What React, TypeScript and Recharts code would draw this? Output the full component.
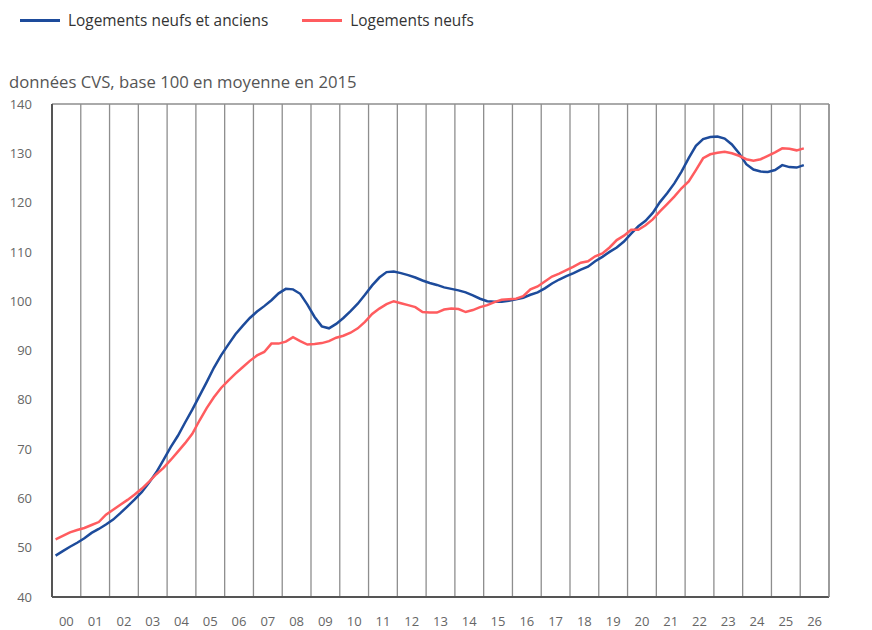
import { LineChart, Line, XAxis, YAxis, CartesianGrid, ReferenceLine } from "recharts";

// Indices trimestriels des prix des logements, 2000T1 -> 2026T1
const years = ["00", "01", "02", "03", "04", "05", "06", "07", "08", "09", "10", "11", "12", "13",
  "14", "15", "16", "17", "18", "19", "20", "21", "22", "23", "24", "25", "26"];

const yTicks = [40, 50, 60, 70, 80, 90, 100, 110, 120, 130, 140];

const ensemble = [
  48.4, 49.3, 50.2, 51.0, 51.9, 53.0, 53.8, 54.7, 55.7, 57.0, 58.4, 59.8,
  61.3, 63.2, 65.3, 67.8, 70.4, 72.7, 75.4, 78.0, 80.8, 83.6, 86.5, 89.0,
  91.2, 93.3, 95.0, 96.6, 97.9, 99.0, 100.2, 101.6, 102.5, 102.4, 101.5, 99.3,
  96.8, 94.9, 94.5, 95.4, 96.6, 98.0, 99.5, 101.3, 103.2, 104.8, 105.9, 106.0,
  105.7, 105.3, 104.8, 104.2, 103.7, 103.3, 102.8, 102.5, 102.2, 101.8, 101.2, 100.5,
  100.0, 99.9, 99.9, 100.1, 100.4, 100.7, 101.3, 101.8, 102.6, 103.6, 104.4, 105.1,
  105.7, 106.4, 107.0, 108.1, 109.0, 110.0, 110.9, 112.1, 113.7, 115.2, 116.3, 117.9,
  120.1, 121.9, 123.9, 126.3, 129.0, 131.5, 132.9, 133.3, 133.4, 133.0, 131.8, 130.0,
  127.8, 126.7, 126.3, 126.2, 126.6, 127.6, 127.2, 127.1, 127.6,
];

const neufs = [
  51.7, 52.4, 53.1, 53.6, 54.0, 54.6, 55.2, 56.7, 57.7, 58.7, 59.7, 60.8,
  62.0, 63.4, 64.9, 66.2, 67.8, 69.5, 71.2, 73.1, 75.8, 78.3, 80.5, 82.4,
  83.9, 85.3, 86.6, 87.9, 89.0, 89.7, 91.4, 91.4, 91.8, 92.7, 91.9, 91.2,
  91.3, 91.5, 91.9, 92.6, 93.0, 93.6, 94.5, 95.8, 97.4, 98.5, 99.4, 100.0,
  99.6, 99.2, 98.8, 97.8, 97.7, 97.7, 98.3, 98.5, 98.4, 97.8, 98.2, 98.8,
  99.2, 99.8, 100.3, 100.4, 100.5, 101.0, 102.4, 103.0, 104.0, 105.0, 105.6, 106.3,
  107.0, 107.8, 108.1, 109.1, 109.7, 110.9, 112.4, 113.3, 114.5, 114.5, 115.4, 116.6,
  118.2, 119.7, 121.2, 122.9, 124.3, 126.6, 129.0, 129.8, 130.1, 130.3, 130.0, 129.5,
  128.8, 128.5, 128.8, 129.5, 130.2, 131.0, 130.9, 130.6, 131.0,
];

const BLUE = "#1d4b9b";
const RED = "#ff5c5f";
const GRID = "#8e8e8e";
const FONT = "'Open Sans', sans-serif";

// position en années depuis 2000 (milieu de trimestre)
const data = ensemble.map((v, i) => ({ t: i / 4 + 0.125, ensemble: v, neufs: neufs[i] }));
const labelTicks = years.map((_, k) => k + 0.5);
const yearLines = years.map((_, k) => k + 1);

const tickStyle = { fill: "#666", fontSize: 13, fontFamily: FONT };

export default function App() {
  return (
    <div style={{ position: "absolute", left: 0, top: 0, width: 872, height: 630, fontFamily: FONT, background: "#fff" }}>
      <div style={{ position: "absolute", top: 10, left: 20, display: "flex", alignItems: "center", fontSize: 15.4, color: "#333" }}>
        <span style={{ display: "inline-block", width: 40, height: 3, background: BLUE, marginRight: 8 }} />
        <span style={{ marginRight: 34 }}>Logements neufs et anciens</span>
        <span style={{ display: "inline-block", width: 40, height: 3, background: RED, marginRight: 8 }} />
        <span>Logements neufs</span>
      </div>
      <div style={{ position: "absolute", top: 70, left: 9, fontSize: 16.7, color: "#555" }}>
        données CVS, base 100 en moyenne en 2015
      </div>
      <LineChart width={872} height={630} data={data} margin={{ top: 104, right: 0, bottom: 0, left: 0 }}>
        <CartesianGrid vertical={false} stroke={GRID} strokeWidth={1.3} />
        {yearLines.map((x) => (
          <ReferenceLine key={x} x={x} yAxisId="left" stroke={GRID} strokeWidth={1.3} />
        ))}
        <XAxis
          dataKey="t"
          type="number"
          domain={[0, 27]}
          ticks={labelTicks}
          interval={0}
          tickFormatter={(v) => years[Math.floor(v)]}
          tick={tickStyle}
          tickLine={false}
          tickSize={0}
          tickMargin={20}
          height={33}
          axisLine={{ stroke: "#555", strokeWidth: 2 }}
        />
        <YAxis
          yAxisId="left"
          domain={[40, 140]}
          ticks={yTicks}
          interval={0}
          width={52}
          tick={tickStyle}
          tickLine={false}
          tickSize={0}
          tickMargin={20}
          axisLine={{ stroke: "#555", strokeWidth: 2 }}
        />
        <YAxis
          yAxisId="right"
          orientation="right"
          domain={[40, 140]}
          ticks={yTicks}
          interval={0}
          width={43}
          tick={{ ...tickStyle, textAnchor: "start" }}
          tickLine={false}
          tickSize={0}
          tickMargin={18}
          axisLine={{ stroke: GRID, strokeWidth: 1.3 }}
        />
        <Line yAxisId="left" type="linear" dataKey="ensemble" stroke={BLUE} strokeWidth={2.5} dot={false} isAnimationActive={false} />
        <Line yAxisId="left" type="linear" dataKey="neufs" stroke={RED} strokeWidth={2.5} dot={false} isAnimationActive={false} />
      </LineChart>
    </div>
  );
}
